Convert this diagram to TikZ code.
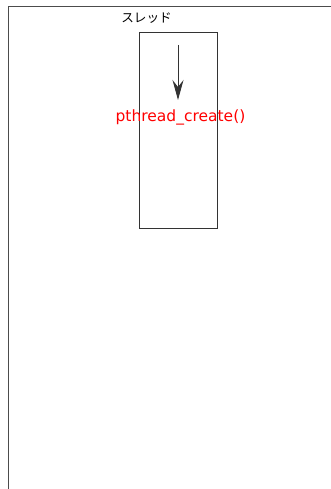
\documentclass[tikz,border=0pt]{standalone}
\usepackage{fontspec}
\setmainfont{DejaVu Sans}
\newfontfamily\jpfont{Noto Sans CJK JP}
\usetikzlibrary{arrows.meta}
\definecolor{linegray}{HTML}{333333}
\tikzset{
  threadbox/.style={draw=linegray, line width=0.9pt, inner sep=0pt, minimum width=78pt, minimum height=196pt},
  flowarrow/.style={draw=linegray, line width=0.9pt, -{Stealth[length=20pt,width=11pt,inset=7pt]}},
  calllabel/.style={text=red, font=\fontsize{15.5}{18}\selectfont, inner sep=0pt, anchor=base},
  titlelabel/.style={font=\jpfont\fontsize{12.6}{14}\selectfont, inner sep=0pt},
  frameline/.style={draw=black!70, line width=1pt}
}
\begin{document}
\begin{tikzpicture}[x=1pt,y=1pt]
\useasboundingbox (0,0) rectangle (331,-489);
\clip (0,0) rectangle (331,-489);
\draw[frameline] (8,-500) -- (8,-7) -- (345,-7);
\node[threadbox] (thread) at (178,-130) {};
\node[titlelabel] (title) at (146.5,-18.5) {スレッド};
\coordinate (astart) at (178,-45);
\coordinate (aend) at (178,-100);
\draw[flowarrow] (astart) -- (aend);
\node[calllabel] (call) at (180.5,-122) {pthread\_create()};
\end{tikzpicture}
\end{document}
